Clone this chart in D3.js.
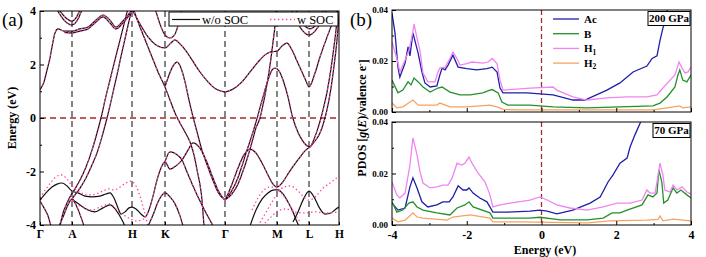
<!DOCTYPE html>
<html>
<head>
<meta charset="utf-8">
<script src="https://cdn.jsdelivr.net/npm/d3@7"></script>
<style>
  body { margin: 0; background: #fff; }
  svg { display: block; font-family: "Liberation Serif", "Times New Roman", serif; }
</style>
</head>
<body>
<svg id="fig" width="706" height="257"></svg>
<script>
"use strict";
// ---------- (a) band structure: [k (path distance), E (eV)] ----------
const kTicks = [0, 0.32, 0.92, 1.25, 1.85, 2.37, 2.69, 2.99];
const kLabels = ["Γ", "A", "H", "K", "Γ", "M", "L", "H"];
const eTicks = [-4, -2, 0, 2, 4];

const bandU1 = [[0,1.05],[0.04,1.35],[0.07,1.79],[0.10,2.25],[0.12,2.65],[0.15,3.18],[0.18,3.33],[0.24,3.25],[0.32,3.25],[0.40,3.33],[0.48,3.40],[0.56,3.66],[0.63,3.85],[0.70,3.66],[0.76,3.40],[0.82,3.59],[0.88,3.85],[0.92,4.05]];
const bandU1b = [[0.24,3.20],[0.32,3.18],[0.40,3.25],[0.48,3.33],[0.56,3.59],[0.63,3.78],[0.70,3.55],[0.76,3.33],[0.82,3.51],[0.88,3.78],[0.92,4.0]];
const bandUA1 = [[0.17,4.05],[0.24,3.66],[0.32,3.48],[0.38,3.70],[0.42,4.05]];
const bandUA2 = [[0.19,4.05],[0.26,3.74],[0.32,3.62],[0.36,3.74],[0.40,4.05]];
const bandS1 = [[0.20,-4.04],[0.23,-3.55],[0.27,-3.18],[0.31,-2.88],[0.35,-2.65],[0.40,-2.32],[0.46,-1.83],[0.52,-1.20],[0.57,-0.56],[0.61,0],[0.65,0.67],[0.70,1.42],[0.76,2.32],[0.82,3.21],[0.88,4.11]];
const bandS2 = [[0.32,-3.03],[0.34,-2.92],[0.40,-2.62],[0.46,-2.24],[0.52,-1.76],[0.58,-1.20],[0.63,-0.56],[0.67,0],[0.72,0.79],[0.77,1.61],[0.82,2.47],[0.87,3.29],[0.92,4.11]];
const bandIA = [[0.19,-4.04],[0.23,-3.70],[0.27,-3.33],[0.30,-3.10],[0.32,-3.03],[0.35,-3.18],[0.39,-3.51],[0.44,-4.04]];
const bandG0 = [[0,-3.10],[0.04,-3.36],[0.08,-3.66],[0.11,-4.04]];
const bandL1 = [[0,-3.07],[0.06,-2.80],[0.12,-2.58],[0.17,-2.47],[0.22,-2.43],[0.27,-2.54],[0.32,-2.73],[0.38,-2.80],[0.45,-2.92],[0.52,-2.95],[0.60,-2.92],[0.66,-2.84],[0.70,-2.80],[0.74,-2.99],[0.78,-3.36],[0.81,-3.59],[0.85,-3.51],[0.89,-3.36],[0.92,-3.33],[0.96,-3.40],[1.01,-3.59],[1.05,-3.70],[1.09,-3.44],[1.13,-2.92],[1.17,-2.32],[1.21,-1.87],[1.25,-1.64],[1.30,-1.91],[1.36,-1.79],[1.42,-1.57],[1.48,-1.20],[1.53,-0.93],[1.59,-1.08],[1.66,-1.57],[1.73,-2.24],[1.79,-2.77],[1.85,-3.07]];
const bandKa = [[1.25,-1.64],[1.30,-1.27],[1.36,-1.35],[1.42,-1.57],[1.47,-2.02],[1.53,-2.54],[1.59,-3.03],[1.65,-3.48],[1.71,-3.89],[1.73,-4.04]];
const bandL3 = [[0.32,-3.03],[0.40,-3.25],[0.48,-3.44],[0.55,-3.51],[0.63,-3.36],[0.70,-3.25],[0.76,-3.44],[0.81,-3.74],[0.85,-4.04]];
const bandS3 = [[0.93,4.11],[1.00,3.40],[1.06,2.84],[1.12,2.28],[1.18,1.72],[1.25,1.16],[1.30,0.67],[1.35,0.19],[1.40,-0.19],[1.45,-0.52],[1.50,-0.90],[1.54,-1.38],[1.57,-1.94],[1.60,-2.50],[1.62,-3.07],[1.63,-3.55],[1.64,-4.04]];
const bandBeta = [[1.25,1.16],[1.29,1.61],[1.33,1.94],[1.37,2.09],[1.41,1.87],[1.45,1.35],[1.49,0.67],[1.53,0.04],[1.57,-0.52],[1.61,-1.08],[1.66,-1.64],[1.72,-2.24],[1.78,-2.77],[1.85,-3.07]];
const bandAlpha = [[0.92,4.07],[1.00,3.51],[1.08,3.03],[1.16,2.73],[1.25,2.62],[1.30,2.77],[1.35,2.92],[1.40,2.77],[1.46,2.51],[1.52,2.17],[1.60,1.72],[1.68,1.35],[1.76,1.08],[1.85,0.97]];
const bandUK = [[1.15,4.11],[1.20,3.51],[1.25,3.10],[1.30,2.99],[1.35,3.14],[1.39,3.59],[1.42,4.11]];
const bandIK = [[1.08,-4.04],[1.13,-3.63],[1.18,-3.14],[1.22,-2.88],[1.25,-2.80],[1.30,-2.95],[1.35,-3.21],[1.40,-3.66],[1.43,-4.04]];
const bandGup = [[1.85,0.97],[1.93,1.08],[2.02,1.35],[2.10,1.72],[2.18,2.09],[2.25,2.36],[2.31,2.47],[2.37,2.50],[2.42,2.69],[2.47,2.80],[2.52,2.54],[2.57,2.13],[2.62,1.72],[2.66,1.38],[2.69,1.16],[2.75,1.68],[2.80,2.28],[2.86,2.92],[2.92,3.51],[2.98,4.07]];
const bandIV = [[1.85,-3.07],[1.91,-2.77],[1.97,-2.32],[2.02,-1.79],[2.07,-1.20],[2.12,-0.64],[2.18,0.11],[2.23,0.79],[2.28,1.42],[2.32,1.79],[2.35,1.87],[2.39,1.76],[2.43,1.42],[2.48,0.79],[2.52,0.11],[2.57,-0.45],[2.62,-0.82],[2.66,-1.01],[2.70,-1.08],[2.74,-0.79],[2.78,-0.37],[2.81,0],[2.84,0.45],[2.87,0.97],[2.90,1.61],[2.93,2.39],[2.96,3.29],[2.98,4.04]];
const bandMV = [[1.85,-3.07],[1.88,-2.84],[1.92,-2.47],[1.98,-1.87],[2.04,-1.38],[2.10,-1.16],[2.16,-1.31],[2.22,-1.68],[2.28,-2.13],[2.33,-2.47],[2.37,-2.58],[2.42,-2.43],[2.48,-2.09],[2.54,-1.76],[2.60,-1.46],[2.65,-1.23],[2.70,-1.08],[2.75,-0.86],[2.80,-0.56],[2.85,0],[2.88,0.49],[2.91,1.12],[2.94,1.94],[2.97,2.92],[2.99,3.85]];
const bandGR1 = [[1.85,-3.07],[1.92,-2.84],[1.98,-2.47],[2.03,-1.98],[2.08,-1.42],[2.12,-0.90],[2.16,-0.37],[2.20,0],[2.23,0.49],[2.26,1.05],[2.29,1.72],[2.31,2.24],[2.33,2.84],[2.35,3.48],[2.36,4.11]];
const bandMP = [[2.10,-4.04],[2.16,-3.44],[2.22,-3.03],[2.28,-2.80],[2.34,-2.69],[2.38,-2.69],[2.43,-2.84],[2.48,-3.14],[2.53,-3.51],[2.57,-3.89],[2.59,-4.04]];
const bandLP = [[2.53,-3.89],[2.58,-3.51],[2.63,-3.07],[2.69,-2.73],[2.74,-2.95],[2.79,-3.33],[2.85,-3.59],[2.91,-3.55],[2.96,-3.40],[2.99,-3.33]];
const bandUL1 = [[2.51,4.11],[2.57,3.59],[2.63,3.25],[2.69,3.10],[2.75,3.25],[2.81,3.59],[2.87,4.11]];
const bandUL2 = [[2.55,4.11],[2.61,3.66],[2.66,3.40],[2.70,3.33],[2.74,3.40],[2.79,3.66],[2.84,4.11]];

// bands that only show up (split) with SOC
const socP1 = [[0,-2.99],[0.06,-2.65],[0.12,-2.36],[0.17,-2.17],[0.22,-2.13],[0.27,-2.28],[0.32,-2.54],[0.40,-2.77],[0.48,-2.88],[0.56,-2.84],[0.63,-2.73],[0.69,-2.65],[0.74,-2.69],[0.80,-2.58],[0.86,-2.43],[0.91,-2.36],[0.96,-2.54],[1.00,-2.92],[1.04,-3.44],[1.07,-3.89],[1.08,-4.04]];
const socP2 = [[0.32,-3.10],[0.42,-3.33],[0.52,-3.44],[0.62,-3.29],[0.70,-3.21],[0.78,-3.48],[0.85,-3.66],[0.91,-3.78],[0.97,-3.85],[1.02,-3.81],[1.05,-3.74]];
const socM1 = [[2.18,-4.04],[2.25,-3.59],[2.32,-3.14],[2.38,-2.80],[2.44,-2.58],[2.50,-2.54],[2.57,-2.69],[2.63,-2.92],[2.69,-3.07],[2.76,-2.92],[2.83,-2.62],[2.90,-2.43],[2.99,-2.17]];
const socM2 = [[2.22,-4.04],[2.30,-3.74],[2.38,-3.48],[2.46,-3.40],[2.55,-3.51],[2.65,-3.55],[2.75,-3.51],[2.85,-3.55],[2.99,-3.51]];
const socM3 = [[2.12,-3.44],[2.18,-2.99],[2.24,-2.69],[2.30,-2.58],[2.37,-2.62],[2.43,-2.88],[2.49,-3.21],[2.55,-3.59],[2.60,-3.89]];

const bandsNoSOC = [bandU1, bandU1b, bandUA1, bandUA2, bandS1, bandS2, bandIA, bandG0, bandL1, bandKa, bandL3,
  bandS3, bandBeta, bandAlpha, bandUK, bandIK, bandGup, bandIV, bandMV, bandGR1, bandMP, bandLP, bandUL1, bandUL2];
const bandsSOC = [bandU1, bandU1b, bandUA1, bandUA2, bandS1, bandS2, bandIA, bandG0, bandL1.filter(d => d[0] >= 1.05), bandKa,
  bandS3, bandBeta, bandAlpha, bandUK, bandIK, bandGup, bandIV, bandMV, bandGR1, bandUL1, bandUL2,
  socP1, socP2, socM1, socM2, socM3];

// ---------- (b) PDOS: [E (eV), g(E) per valence electron] ----------
const acHigh = [[-4,0.0388],[-3.92,0.031],[-3.84,0.0176],[-3.79,0.0137],[-3.65,0.0192],[-3.57,0.0255],[-3.52,0.022],[-3.44,0.031],[-3.3,0.023],[-3.2,0.0157],[-3.12,0.0114],[-2.98,0.0098],[-2.8,0.0102],[-2.72,0.0145],[-2.66,0.0172],[-2.58,0.0165],[-2.5,0.0184],[-2.37,0.0223],[-2.23,0.0176],[-2.0,0.017],[-1.73,0.0165],[-1.46,0.017],[-1.32,0.0176],[-1.19,0.0157],[-1.11,0.0094],[-1.03,0.0075],[-0.39,0.0075],[0.31,0.0067],[0.84,0.0047],[1.16,0.0047],[1.75,0.0086],[2.1,0.0114],[2.45,0.0157],[2.82,0.018],[2.96,0.021],[3.09,0.022],[3.17,0.028],[3.25,0.033],[3.3,0.035],[3.36,0.040],[3.45,0.046],[3.6,0.052]];
const bHigh = [[-4,0.0125],[-3.84,0.0075],[-3.71,0.0086],[-3.57,0.0118],[-3.49,0.0106],[-3.41,0.0133],[-3.3,0.0118],[-3.17,0.0098],[-2.98,0.0078],[-2.77,0.0094],[-2.66,0.0098],[-2.45,0.0078],[-2.18,0.0067],[-1.91,0.0067],[-1.57,0.0075],[-1.38,0.0086],[-1.32,0.0088],[-1.16,0.0075],[-1.06,0.0039],[-0.9,0.0027],[-0.31,0.0027],[0.31,0.002],[1.22,0.0016],[2.1,0.002],[2.98,0.0024],[3.17,0.0035],[3.36,0.0059],[3.57,0.0098],[3.65,0.0145],[3.7,0.0165],[3.78,0.0125],[3.89,0.0118],[4.0,0.0145]];
const h1High = [[-4,0.0275],[-3.87,0.021],[-3.79,0.0157],[-3.65,0.0204],[-3.55,0.024],[-3.46,0.030],[-3.41,0.0345],[-3.33,0.029],[-3.25,0.024],[-3.17,0.0153],[-3.04,0.0118],[-2.85,0.0118],[-2.77,0.0157],[-2.72,0.0172],[-2.58,0.0176],[-2.45,0.021],[-2.37,0.0235],[-2.26,0.021],[-2.18,0.0184],[-2.0,0.019],[-1.86,0.0196],[-1.57,0.0192],[-1.43,0.0196],[-1.32,0.021],[-1.19,0.019],[-1.11,0.0125],[-1.03,0.0086],[-0.66,0.009],[-0.31,0.0094],[0.31,0.0098],[0.41,0.0086],[0.84,0.0059],[1.22,0.0047],[1.75,0.0055],[2.29,0.0059],[2.82,0.0059],[3.09,0.0067],[3.25,0.0094],[3.44,0.0125],[3.57,0.0145],[3.68,0.0196],[3.76,0.0172],[3.84,0.0153],[3.92,0.0157],[4.0,0.0176]];
const h2High = [[-4,0.0035],[-3.87,0.0016],[-3.71,0.002],[-3.44,0.0047],[-3.3,0.0027],[-2.8,0.0027],[-2.72,0.0035],[-2.45,0.002],[-2.0,0.002],[-1.38,0.0027],[-1.19,0.002],[-1.03,0.001],[-0.58,0.0008],[2.98,0.0008],[3.36,0.0016],[3.7,0.0024],[3.78,0.0016],[4.0,0.002]];

const acLow = [[-4,0.0085],[-3.84,0.0058],[-3.65,0.0066],[-3.52,0.0148],[-3.44,0.0183],[-3.33,0.0144],[-3.2,0.009],[-3.04,0.007],[-2.8,0.0078],[-2.64,0.009],[-2.47,0.009],[-2.37,0.0109],[-2.23,0.0152],[-2.1,0.0136],[-2.0,0.0136],[-1.94,0.0144],[-1.83,0.0124],[-1.65,0.0105],[-1.46,0.009],[-1.3,0.005],[-0.92,0.005],[-0.31,0.0054],[-0.04,0.0058],[0.15,0.0054],[0.41,0.0043],[0.84,0.0058],[1.3,0.0085],[1.57,0.0109],[1.78,0.0167],[1.91,0.0194],[2.1,0.024],[2.29,0.026],[2.37,0.0303],[2.5,0.035],[2.64,0.0396],[2.75,0.045],[2.9,0.05]];
const bLow = [[-4,0.009],[-3.87,0.005],[-3.71,0.0058],[-3.55,0.0085],[-3.44,0.009],[-3.33,0.007],[-3.17,0.0058],[-2.8,0.0047],[-2.45,0.0039],[-2.26,0.0066],[-2.05,0.0078],[-1.94,0.009],[-1.83,0.007],[-1.38,0.0047],[-1.3,0.0027],[-0.31,0.0027],[-0.04,0.003],[0.5,0.002],[1.22,0.002],[1.65,0.0027],[1.89,0.0047],[2.1,0.0047],[2.29,0.0058],[2.69,0.0078],[2.85,0.0117],[2.98,0.0109],[3.09,0.0124],[3.14,0.0214],[3.22,0.0167],[3.27,0.0085],[3.38,0.0097],[3.52,0.0144],[3.62,0.0124],[3.73,0.0136],[3.89,0.0117],[4.0,0.0105]];
const h1Low = [[-4,0.0167],[-3.87,0.0117],[-3.79,0.0105],[-3.65,0.0124],[-3.52,0.0233],[-3.44,0.0338],[-3.33,0.0272],[-3.25,0.0206],[-3.17,0.0163],[-2.98,0.0144],[-2.8,0.0148],[-2.64,0.0155],[-2.5,0.0155],[-2.39,0.0183],[-2.26,0.024],[-2.13,0.0233],[-2.05,0.024],[-1.94,0.0264],[-1.86,0.024],[-1.7,0.0202],[-1.51,0.0167],[-1.38,0.0117],[-1.3,0.007],[-1.11,0.0078],[-0.84,0.0085],[-0.31,0.0097],[-0.04,0.0109],[0.15,0.0097],[0.41,0.0078],[0.76,0.0066],[1.22,0.0058],[1.65,0.007],[2.02,0.0085],[2.37,0.0085],[2.69,0.0097],[2.82,0.0136],[2.9,0.0124],[3.04,0.0124],[3.12,0.0194],[3.17,0.024],[3.25,0.0194],[3.3,0.0136],[3.44,0.0128],[3.52,0.0155],[3.62,0.0136],[3.76,0.0148],[3.89,0.0128],[4.0,0.012]];
const h2Low = [[-4,0.0027],[-3.84,0.0012],[-3.65,0.0019],[-3.44,0.0047],[-3.33,0.0031],[-3.17,0.0027],[-2.53,0.0019],[-2.37,0.0031],[-1.91,0.0039],[-1.38,0.0027],[-1.3,0.0012],[-0.58,0.0012],[1.22,0.0008],[1.83,0.0016],[2.82,0.0019],[3.12,0.0022],[3.17,0.0035],[3.25,0.0016],[3.52,0.0023],[4.0,0.0016]];

const pdosNames = ["Ac", "B", "H", "H"];
const pdosSubs = ["", "", "1", "2"];
const pdosColors = ["#1f1fa8", "#23902a", "#f283f2", "#f7a262"];
const pdosHigh = [acHigh, bHigh, h1High, h2High];
const pdosLow = [acLow, bLow, h1Low, h2Low];

// ---------- drawing ----------
const svg = d3.select("#fig");
const zeroColor = "#a8282c";
const socColor = "#ff3fa4";

// (a)
const xa = d3.scaleLinear().domain([0, 2.99]).range([40, 339]);
const ya = d3.scaleLinear().domain([-4, 4]).range([225, 11]);
const ga = svg.append("g");
ga.append("clipPath").attr("id", "clipA").append("rect")
  .attr("x", 40).attr("y", 11).attr("width", 299).attr("height", 214);

ga.selectAll("line.kdiv").data(kTicks.slice(1, -1)).join("line")
  .attr("class", "kdiv")
  .attr("x1", d => xa(d)).attr("x2", d => xa(d))
  .attr("y1", ya(4)).attr("y2", ya(-4))
  .attr("stroke", "#333").attr("stroke-width", 1.2).attr("stroke-dasharray", "6,4");
ga.append("line")
  .attr("x1", xa(0)).attr("x2", xa(2.99)).attr("y1", ya(0)).attr("y2", ya(0))
  .attr("stroke", zeroColor).attr("stroke-width", 1.3).attr("stroke-dasharray", "6,4");

const bandLine = d3.line().x(d => xa(d[0])).y(d => ya(d[1])).curve(d3.curveMonotoneX);
const gb = ga.append("g").attr("clip-path", "url(#clipA)");
gb.selectAll("path.nosoc").data(bandsNoSOC).join("path")
  .attr("class", "nosoc").attr("d", bandLine)
  .attr("fill", "none").attr("stroke", "#111").attr("stroke-width", 1.2);
gb.selectAll("path.soc").data(bandsSOC).join("path")
  .attr("class", "soc").attr("d", bandLine)
  .attr("fill", "none").attr("stroke", socColor).attr("stroke-width", 1.3)
  .attr("stroke-dasharray", "1.4,2.6");

// legend (a)
const lg = ga.append("g");
lg.append("rect").attr("x", 169).attr("y", 12).attr("width", 169).attr("height", 14)
  .attr("fill", "#fff").attr("stroke", "#000").attr("stroke-width", 1);
lg.append("line").attr("x1", 172).attr("x2", 200).attr("y1", 19.5).attr("y2", 19.5)
  .attr("stroke", "#111").attr("stroke-width", 1.2);
lg.append("text").attr("x", 202).attr("y", 19.5).attr("dy", "0.35em")
  .attr("font-size", 12.5).text("w/o SOC");
lg.append("line").attr("x1", 270).attr("x2", 295).attr("y1", 19.5).attr("y2", 19.5)
  .attr("stroke", socColor).attr("stroke-width", 1.3).attr("stroke-dasharray", "1.4,2.6");
lg.append("text").attr("x", 297).attr("y", 19.5).attr("dy", "0.35em")
  .attr("font-size", 12.5).text("w SOC");

ga.append("rect").attr("x", 40).attr("y", 11).attr("width", 299).attr("height", 214)
  .attr("fill", "none").attr("stroke", "#000").attr("stroke-width", 1);

const axA = ga.append("g").attr("transform", "translate(40,0)")
  .call(d3.axisLeft(ya).tickValues(eTicks).tickFormat(d => d).tickSizeInner(-4).tickSizeOuter(0).tickPadding(4));
const axAm = ga.append("g").attr("transform", "translate(40,0)")
  .call(d3.axisLeft(ya).tickValues([-3, -1, 1, 3]).tickFormat("").tickSizeInner(-2).tickSizeOuter(0));
const axAx = ga.append("g").attr("transform", "translate(0,225)")
  .call(d3.axisBottom(xa).tickValues(kTicks).tickFormat((d, i) => kLabels[i]).tickSizeInner(-3).tickSizeOuter(0).tickPadding(5));
[axA, axAm, axAx].forEach(a => a.attr("font-family", null).attr("font-size", null));
[axA, axAx].forEach(a => a.selectAll("text").attr("font-weight", "bold").attr("fill", "#000"));
axA.selectAll("text").attr("font-size", 12);
axAx.selectAll("text").attr("font-size", 11.5);
ga.selectAll(".domain").remove();
ga.selectAll(".tick line").attr("stroke", "#000");

ga.append("text").attr("transform", "translate(12,118) rotate(-90)").attr("dy", "0.35em")
  .attr("text-anchor", "middle").attr("font-weight", "bold").attr("font-size", 12).text("Energy (eV)");
svg.append("text").attr("x", 2).attr("y", 26).attr("font-size", 19).text("(a)");
svg.append("text").attr("x", 350).attr("y", 26).attr("font-size", 19).text("(b)");

// (b)
const xb = d3.scaleLinear().domain([-4, 4]).range([392, 691]);
const pdosLine = d3.line().x(d => xb(d[0]));

function pdosPanel(id, top, bottom, data, tag, tagX, showLabels) {
  const y = d3.scaleLinear().domain([0, 0.04]).range([bottom, top]);
  const g = svg.append("g");
  g.append("clipPath").attr("id", id).append("rect")
    .attr("x", 392).attr("y", top).attr("width", 299).attr("height", bottom - top);
  g.append("line").attr("x1", xb(0)).attr("x2", xb(0)).attr("y1", top).attr("y2", bottom)
    .attr("stroke", zeroColor).attr("stroke-width", 1.3).attr("stroke-dasharray", "5,3");
  const line = pdosLine.y(d => y(d[1]));
  g.append("g").attr("clip-path", `url(#${id})`)
    .selectAll("path").data(data).join("path")
    .attr("d", d => line(d))
    .attr("fill", "none").attr("stroke", (d, i) => pdosColors[i]).attr("stroke-width", 1.3);
  g.append("rect").attr("x", 392).attr("y", top).attr("width", 299).attr("height", bottom - top)
    .attr("fill", "none").attr("stroke", "#000").attr("stroke-width", 1);

  const ay = g.append("g").attr("transform", "translate(392,0)")
    .call(d3.axisLeft(y).tickValues([0, 0.02, 0.04]).tickFormat(d3.format(".2f")).tickSizeInner(-4).tickSizeOuter(0).tickPadding(4));
  const aym = g.append("g").attr("transform", "translate(392,0)")
    .call(d3.axisLeft(y).tickValues([0.01, 0.03]).tickFormat("").tickSizeInner(-2).tickSizeOuter(0));
  const ax = g.append("g").attr("transform", `translate(0,${bottom})`)
    .call(d3.axisBottom(xb).tickValues([-4, -2, 0, 2, 4]).tickFormat(d => showLabels ? d : "").tickSizeInner(-4).tickSizeOuter(0).tickPadding(5));
  const axm = g.append("g").attr("transform", `translate(0,${bottom})`)
    .call(d3.axisBottom(xb).tickValues([-3, -1, 1, 3]).tickFormat("").tickSizeInner(-2).tickSizeOuter(0));
  [ay, aym, ax, axm].forEach(a => a.attr("font-family", null).attr("font-size", null));
  ay.selectAll("text").attr("font-weight", "bold").attr("font-size", 9).attr("fill", "#000");
  ax.selectAll("text").attr("font-weight", "bold").attr("font-size", 12).attr("fill", "#000");
  g.selectAll(".domain").remove();
  g.selectAll(".tick line").attr("stroke", "#000");

  // pressure tag
  g.append("rect").attr("x", tagX).attr("y", top + 1.5).attr("width", 690 - tagX).attr("height", 14)
    .attr("fill", "#fff").attr("stroke", "#000").attr("stroke-width", 1);
  g.append("text").attr("x", (tagX + 690) / 2).attr("y", top + 8.5).attr("dy", "0.35em")
    .attr("text-anchor", "middle").attr("font-weight", "bold").attr("font-size", 11).text(tag);
  return g;
}

const gTop = pdosPanel("clipB1", 10, 112, pdosHigh, "200 GPa", 648, false);
pdosPanel("clipB2", 122, 225, pdosLow, "70 GPa", 653, true);

// legend (b)
const lgb = gTop.append("g");
pdosNames.forEach((name, i) => {
  const yy = 19 + i * 14.7;
  lgb.append("line").attr("x1", 553).attr("x2", 579).attr("y1", yy).attr("y2", yy)
    .attr("stroke", pdosColors[i]).attr("stroke-width", 1.3);
  const t = lgb.append("text").attr("x", 584).attr("y", yy).attr("dy", "0.35em")
    .attr("font-weight", "bold").attr("font-size", 11).text(name);
  if (pdosSubs[i]) t.append("tspan").attr("dy", "0.3em").attr("font-size", 7.5).text(pdosSubs[i]);
});

svg.append("text").attr("x", 545).attr("y", 254)
  .attr("text-anchor", "middle").attr("font-weight", "bold").attr("font-size", 12).text("Energy (eV)");
const yl = svg.append("text").attr("transform", "translate(362,118) rotate(-90)").attr("dy", "0.35em")
  .attr("text-anchor", "middle").attr("font-weight", "bold").attr("font-size", 12);
yl.append("tspan").text("PDOS [");
yl.append("tspan").attr("font-style", "italic").text("g");
yl.append("tspan").text("(");
yl.append("tspan").attr("font-style", "italic").text("E");
yl.append("tspan").text(")/valence e");
yl.append("tspan").attr("dy", "-0.4em").attr("font-size", 8).text("-");
yl.append("tspan").attr("dy", "0.4em").text("]");
</script>
</body>
</html>
